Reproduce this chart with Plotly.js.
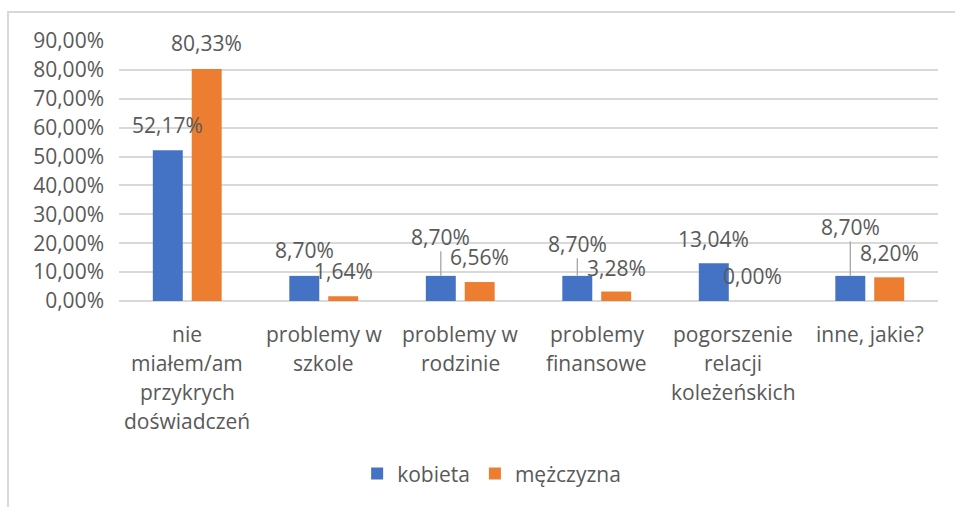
<!DOCTYPE html>
<html>
<head>
<meta charset="utf-8">
<script src="https://cdn.plot.ly/plotly-3.0.1.min.js"></script>
<style>
  html, body { margin: 0; padding: 0; background: #fff; }
  #chart { width: 955px; height: 507px; }
  #frame { position: absolute; left: 7px; top: 11px; width: 970px; height: 520px;
           border: 2px solid #d9d9d9; pointer-events: none; box-sizing: border-box; }
</style>
</head>
<body>
<div id="chart"></div>
<div id="frame"></div>
<script>
// ---- data ----
const categories = [
  "nie\nmiałem/am\nprzykrych\ndoświadczeń",
  "problemy w\nszkole",
  "problemy w\nrodzinie",
  "problemy\nfinansowe",
  "pogorszenie\nrelacji\nkoleżeńskich",
  "inne, jakie?"
];
const kobieta = [52.17, 8.70, 8.70, 8.70, 13.04, 8.70];
const mezczyzna = [80.33, 1.64, 6.56, 3.28, 0.00, 8.20];
const seriesNames = ["kobieta", "mężczyzna"];

// label placement (style): pixel offset of label above bar top, and leader line flag
const labelOffsetK = [-25, -26, -39, -32, -24, -49];
const leaderK      = [false, false, true, true, false, true];
const labelOffsetM = [-26, -25, -25, -24, -25, -24];
const leaderM      = [false, false, false, false, false, false];

const colors = ["#4472C4", "#ED7D31"];
const textColor = "#595959";
const font = "'Open Sans', Lato, sans-serif";
const fsize = 21;
const bargap = 0.43;

const xIdx = categories.map((_, i) => i);
const fmt = v => v.toFixed(2).replace('.', ',') + '%';

const traces = [kobieta, mezczyzna].map((vals, s) => ({
  type: 'bar',
  name: seriesNames[s],
  x: xIdx,
  y: vals.map(v => v / 100),
  marker: { color: colors[s] },
  hoverinfo: 'none'
}));

const annotations = [];
const off = (1 - bargap) / 4;
[[kobieta, labelOffsetK, leaderK, -off], [mezczyzna, labelOffsetM, leaderM, off]].forEach(([vals, offs, leads, dx]) => {
  vals.forEach((v, i) => {
    annotations.push({
      x: i + dx, y: v / 100, xref: 'x', yref: 'y',
      text: fmt(v),
      showarrow: true, ax: 0, ay: offs[i],
      arrowhead: 0, arrowwidth: 1.3,
      arrowcolor: leads[i] ? '#a6a6a6' : 'rgba(0,0,0,0)',
      standoff: 0, startstandoff: 0,
      borderpad: 0,
      font: { family: font, size: fsize, color: textColor }
    });
  });
});

// category labels, one annotation per line
categories.forEach((c, i) => {
  c.split('\n').forEach((line, k) => {
    annotations.push({
      x: i, y: 0, xref: 'x', yref: 'y',
      text: line, showarrow: false,
      yanchor: 'middle', xanchor: 'center',
      yshift: -(33 + 29 * k),
      font: { family: font, size: fsize, color: textColor }
    });
  });
});

const layout = {
  width: 955, height: 507,
  margin: { l: 119, r: 17, t: 41, b: 206 },
  paper_bgcolor: '#fff', plot_bgcolor: '#fff',
  separators: ', ',
  barmode: 'group',
  bargap: bargap,
  bargroupgap: 0.23,
  font: { family: font, size: fsize, color: textColor },
  xaxis: {
    type: 'linear',
    range: [-0.5, categories.length - 0.5],
    showticklabels: false, showgrid: false, zeroline: false,
    showline: false, ticks: ''
  },
  yaxis: {
    range: [0, 0.9],
    dtick: 0.1,
    tickformat: '.2%',
    showgrid: true, gridcolor: '#d9d9d9', gridwidth: 2,
    zeroline: true, zerolinecolor: '#d9d9d9', zerolinewidth: 2,
    showline: false, ticks: '',
    ticklabelstandoff: 14,
    tickfont: { family: font, size: fsize, color: textColor }
  },
  showlegend: true,
  legend: {
    orientation: 'h',
    x: 0.455, xanchor: 'center',
    y: -0.665, yanchor: 'middle',
    font: { family: font, size: fsize, color: textColor },
    itemclick: false, itemdoubleclick: false,
    tracegroupgap: 0, itemwidth: 30
  },
  annotations: annotations
};

Plotly.newPlot('chart', traces, layout, { staticPlot: true, displayModeBar: false });
</script>
</body>
</html>
